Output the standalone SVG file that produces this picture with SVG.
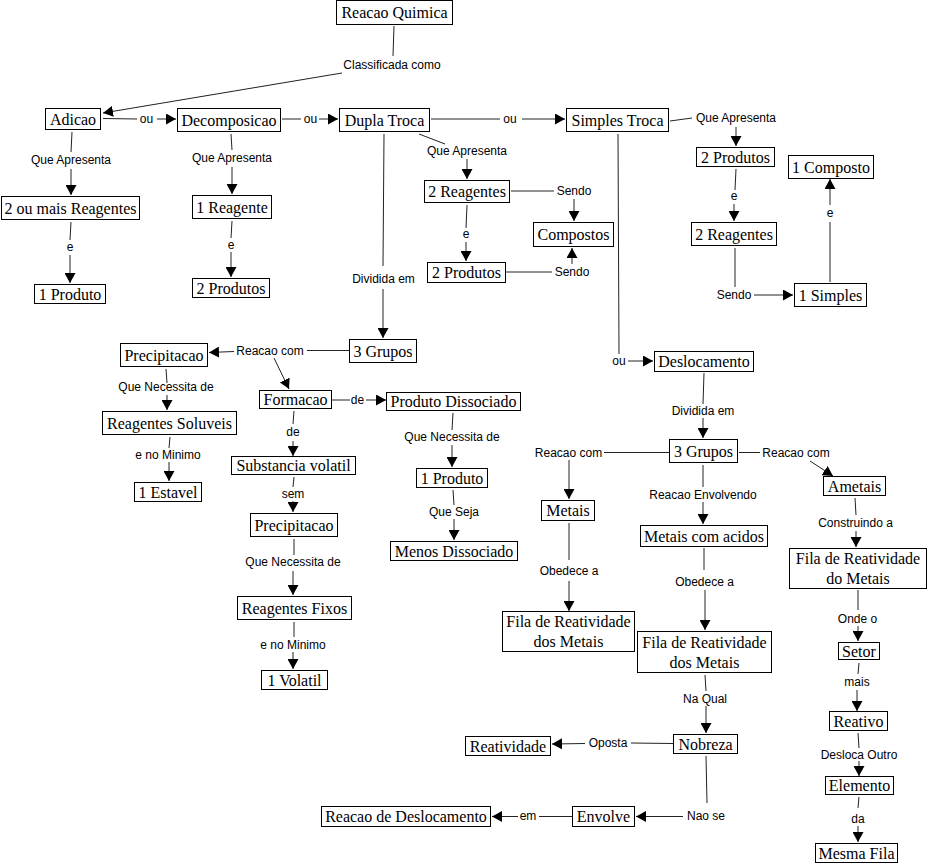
<svg xmlns="http://www.w3.org/2000/svg" width="928" height="864" viewBox="0 0 928 864">
<style>
.n rect{fill:#fff;stroke:#000;stroke-width:1}
.n text{font-family:"Liberation Serif","Times New Roman",serif;font-size:16px;fill:#000;text-anchor:middle}
.c line{stroke:#222;stroke-width:1;fill:none}
.c line.a{marker-end:url(#ah)}
.c text{font-family:"Liberation Sans",Arial,sans-serif;font-size:12px;fill:#000;text-anchor:middle}
</style>
<defs>
<marker id="ah" viewBox="0 0 10 11" refX="10" refY="5.5" markerWidth="10" markerHeight="11" markerUnits="userSpaceOnUse" orient="auto"><path d="M0,0 L10,5.5 L0,11 z" fill="#000"/></marker>
</defs>
<rect width="928" height="864" fill="#fff"/>
<g class="c" id="connectors">
<line x1="394" y1="26" x2="393" y2="56"/><text x="392" y="69">Classificada como</text><line class="a" x1="342" y1="73" x2="103" y2="113"/>
<line x1="103" y1="118.5" x2="137" y2="119"/><text x="146.5" y="123">ou</text><line class="a" x1="157" y1="119" x2="176" y2="119"/>
<line x1="282" y1="119" x2="301" y2="119"/><text x="310.5" y="123">ou</text><line class="a" x1="319" y1="119" x2="338" y2="119"/>
<line x1="431" y1="119" x2="500" y2="119"/><text x="510" y="123">ou</text><line class="a" x1="522" y1="119" x2="565" y2="119"/>
<line x1="72" y1="132" x2="71" y2="152"/><text x="71" y="163.5">Que Apresenta</text><line class="a" x1="71" y1="169" x2="71" y2="195"/>
<line x1="231" y1="134" x2="232" y2="150"/><text x="232" y="162">Que Apresenta</text><line class="a" x1="232" y1="167" x2="232" y2="194"/>
<line x1="71" y1="222" x2="70" y2="240"/><text x="70" y="251">e</text><line class="a" x1="70" y1="255" x2="70" y2="283"/>
<line x1="232" y1="221" x2="231" y2="238"/><text x="231" y="249">e</text><line class="a" x1="231" y1="252" x2="231" y2="277"/>
<line x1="419" y1="134" x2="445" y2="144"/><text x="467" y="155">Que Apresenta</text><line class="a" x1="467" y1="159" x2="467" y2="179"/>
<line x1="511" y1="191" x2="554" y2="191"/><text x="574" y="195">Sendo</text><line class="a" x1="574" y1="199" x2="574" y2="221"/>
<line x1="467" y1="205" x2="466" y2="228"/><text x="466" y="238">e</text><line class="a" x1="466" y1="242" x2="466" y2="261"/>
<line x1="506" y1="272" x2="552" y2="272"/><text x="572" y="276">Sendo</text><line class="a" x1="572" y1="264" x2="572" y2="248"/>
<line x1="670" y1="121" x2="692" y2="118"/><text x="736" y="122">Que Apresenta</text><line class="a" x1="736" y1="127" x2="736" y2="146"/>
<line x1="736" y1="169" x2="735" y2="190"/><text x="734" y="200">e</text><line class="a" x1="734" y1="204" x2="734" y2="221"/>
<line x1="735" y1="248" x2="735" y2="287"/><text x="734" y="299">Sendo</text><line class="a" x1="754" y1="295" x2="793" y2="295"/>
<line x1="830" y1="282" x2="830" y2="222"/><text x="830" y="217">e</text><line class="a" x1="830" y1="205" x2="830" y2="179"/>
<line x1="384" y1="134" x2="383" y2="266"/><text x="383.5" y="283">Dividida em</text><line class="a" x1="383" y1="289" x2="383" y2="338"/>
<line x1="618" y1="134" x2="619" y2="354"/><text x="619" y="364.5">ou</text><line class="a" x1="628" y1="361" x2="653" y2="361"/>
<line x1="349" y1="350.5" x2="307" y2="350.5"/><text x="270" y="355">Reacao com</text><line class="a" x1="234" y1="351.5" x2="209" y2="352.5"/><line class="a" x1="274" y1="358" x2="289" y2="389"/>
<line x1="332" y1="400" x2="350" y2="400"/><text x="357.5" y="404">de</text><line class="a" x1="366" y1="400" x2="386" y2="400"/>
<line x1="294" y1="411" x2="293" y2="424"/><text x="293" y="436">de</text><line class="a" x1="293" y1="441" x2="293" y2="456"/>
<line x1="294" y1="477" x2="293" y2="487"/><text x="293" y="497.5">sem</text><line class="a" x1="293" y1="501" x2="293" y2="512"/>
<line x1="294" y1="539" x2="294" y2="555"/><text x="293" y="566">Que Necessita de</text><line class="a" x1="293" y1="571" x2="293" y2="595"/>
<line x1="294" y1="622" x2="294" y2="637"/><text x="293" y="649">e no Minimo</text><line class="a" x1="293" y1="652" x2="293" y2="669"/>
<line x1="166" y1="369" x2="167" y2="383"/><text x="166" y="391">Que Necessita de</text><line class="a" x1="167" y1="395" x2="167" y2="410"/>
<line x1="170" y1="437" x2="169" y2="448"/><text x="168" y="459">e no Minimo</text><line class="a" x1="169" y1="462" x2="169" y2="481"/>
<line x1="453" y1="413" x2="452" y2="430"/><text x="452" y="441">Que Necessita de</text><line class="a" x1="452" y1="445" x2="452" y2="467"/>
<line x1="453" y1="490" x2="454" y2="505"/><text x="454" y="516">Que Seja</text><line class="a" x1="454" y1="519" x2="454" y2="540"/>
<line x1="704" y1="373" x2="703" y2="404"/><text x="703" y="414.5">Dividida em</text><line class="a" x1="703" y1="418" x2="703" y2="438"/>
<line x1="669" y1="452.5" x2="604" y2="452.5"/><text x="568.5" y="457">Reacao com</text><line class="a" x1="569" y1="460" x2="569" y2="499"/>
<line x1="739" y1="452.5" x2="760" y2="452.5"/><text x="796" y="457">Reacao com</text><line class="a" x1="810" y1="461" x2="833" y2="476"/>
<line x1="703" y1="465" x2="703" y2="487"/><text x="703" y="498.5">Reacao Envolvendo</text><line class="a" x1="703" y1="502" x2="703" y2="524"/>
<line x1="569" y1="523" x2="569" y2="560"/><text x="569" y="575">Obedece a</text><line class="a" x1="569" y1="581" x2="569" y2="611"/>
<line x1="704" y1="548" x2="704" y2="570"/><text x="704.5" y="585.5">Obedece a</text><line class="a" x1="705" y1="590" x2="705" y2="630"/>
<line x1="855" y1="498" x2="856" y2="515"/><text x="855.5" y="527">Construindo a</text><line class="a" x1="856" y1="531" x2="856" y2="547"/>
<line x1="858" y1="590" x2="858" y2="610"/><text x="857.5" y="622.5">Onde o</text><line class="a" x1="858" y1="626" x2="858" y2="641"/>
<line x1="859" y1="663" x2="858" y2="674"/><text x="857" y="686">mais</text><line class="a" x1="857" y1="690" x2="857" y2="711"/>
<line x1="858" y1="733" x2="859" y2="748"/><text x="859" y="759">Desloca Outro</text><line class="a" x1="859" y1="761" x2="859" y2="776"/>
<line x1="859" y1="797" x2="858" y2="808"/><text x="858" y="822.5">da</text><line class="a" x1="858" y1="826" x2="858" y2="842"/>
<line x1="705" y1="675" x2="706" y2="691"/><text x="705" y="703">Na Qual</text><line class="a" x1="706" y1="706" x2="706" y2="733"/>
<line x1="673" y1="743.5" x2="631" y2="743"/><text x="608" y="747">Oposta</text><line class="a" x1="585" y1="743.5" x2="552" y2="744"/>
<line x1="706" y1="756" x2="707" y2="803"/><text x="706" y="820">Nao se</text><line class="a" x1="683" y1="816.5" x2="636" y2="816.5"/>
<line x1="572" y1="816.5" x2="539" y2="816.5"/><text x="528" y="820">em</text><line class="a" x1="518" y1="816.5" x2="492" y2="816.5"/>
</g>
<g class="n" id="n_reacao_quimica"><rect x="336.5" y="0.5" width="116" height="24"/><text x="394.5" y="18">Reacao Quimica</text></g>
<g class="n" id="n_adicao"><rect x="45.5" y="108.5" width="55" height="21"/><text x="73" y="124.5">Adicao</text></g>
<g class="n" id="n_decomposicao"><rect x="177.5" y="108.5" width="103" height="23"/><text x="229" y="125.5">Decomposicao</text></g>
<g class="n" id="n_dupla_troca"><rect x="339.5" y="108.5" width="90" height="23"/><text x="384.5" y="125.5">Dupla Troca</text></g>
<g class="n" id="n_simples_troca"><rect x="566.5" y="108.5" width="102" height="23"/><text x="617.5" y="125.5">Simples Troca</text></g>
<g class="n" id="n_2oumais_reagentes"><rect x="1.5" y="196.5" width="138" height="23"/><text x="70.5" y="213.5">2 ou mais Reagentes</text></g>
<g class="n" id="n_1produto_a"><rect x="34.5" y="284.5" width="71" height="19"/><text x="70" y="299.5">1 Produto</text></g>
<g class="n" id="n_1reagente"><rect x="192.5" y="195.5" width="79" height="23"/><text x="232" y="212.5">1 Reagente</text></g>
<g class="n" id="n_2produtos_a"><rect x="192.5" y="278.5" width="77" height="19"/><text x="231" y="293.5">2 Produtos</text></g>
<g class="n" id="n_2reagentes_b"><rect x="424.5" y="180.5" width="85" height="22"/><text x="467" y="197">2 Reagentes</text></g>
<g class="n" id="n_compostos"><rect x="533.5" y="222.5" width="80" height="24"/><text x="573.5" y="240">Compostos</text></g>
<g class="n" id="n_2produtos_b"><rect x="427.5" y="262.5" width="78" height="20"/><text x="466.5" y="278">2 Produtos</text></g>
<g class="n" id="n_2produtos_c"><rect x="696.5" y="147.5" width="78" height="19"/><text x="735.5" y="162.5">2 Produtos</text></g>
<g class="n" id="n_1composto"><rect x="788.5" y="155.5" width="85" height="23"/><text x="831" y="172.5">1 Composto</text></g>
<g class="n" id="n_2reagentes_c"><rect x="691.5" y="222.5" width="85" height="23"/><text x="734" y="239.5">2 Reagentes</text></g>
<g class="n" id="n_1simples"><rect x="794.5" y="283.5" width="72" height="23"/><text x="830.5" y="300.5">1 Simples</text></g>
<g class="n" id="n_precipitacao_a"><rect x="120.5" y="343.5" width="87" height="23"/><text x="164" y="360.5">Precipitacao</text></g>
<g class="n" id="n_3grupos_a"><rect x="349.5" y="339.5" width="67" height="23"/><text x="383" y="356.5">3 Grupos</text></g>
<g class="n" id="n_formacao"><rect x="259.5" y="390.5" width="72" height="18"/><text x="295.5" y="405">Formacao</text></g>
<g class="n" id="n_produto_dissociado"><rect x="386.5" y="392.5" width="134" height="18"/><text x="453.5" y="407">Produto Dissociado</text></g>
<g class="n" id="n_reagentes_soluveis"><rect x="102.5" y="411.5" width="134" height="23"/><text x="169.5" y="428.5">Reagentes Soluveis</text></g>
<g class="n" id="n_1estavel"><rect x="134.5" y="482.5" width="67" height="19"/><text x="168" y="497.5">1 Estavel</text></g>
<g class="n" id="n_substancia_volatil"><rect x="231.5" y="456.5" width="124" height="18"/><text x="293.5" y="471">Substancia volatil</text></g>
<g class="n" id="n_precipitacao_b"><rect x="250.5" y="513.5" width="87" height="23"/><text x="294" y="530.5">Precipitacao</text></g>
<g class="n" id="n_1produto_b"><rect x="416.5" y="468.5" width="71" height="19"/><text x="452" y="483.5">1 Produto</text></g>
<g class="n" id="n_menos_dissociado"><rect x="390.5" y="541.5" width="127" height="19"/><text x="454" y="556.5">Menos Dissociado</text></g>
<g class="n" id="n_reagentes_fixos"><rect x="237.5" y="596.5" width="114" height="23"/><text x="294.5" y="613.5">Reagentes Fixos</text></g>
<g class="n" id="n_1volatil"><rect x="261.5" y="670.5" width="66" height="19"/><text x="294.5" y="685.5">1 Volatil</text></g>
<g class="n" id="n_deslocamento"><rect x="654.5" y="351.5" width="99" height="20"/><text x="704" y="367">Deslocamento</text></g>
<g class="n" id="n_3grupos_b"><rect x="669.5" y="439.5" width="68" height="23"/><text x="703.5" y="456.5">3 Grupos</text></g>
<g class="n" id="n_metais"><rect x="541.5" y="500.5" width="53" height="20"/><text x="568" y="516">Metais</text></g>
<g class="n" id="n_ametais"><rect x="823.5" y="476.5" width="62" height="19"/><text x="854.5" y="491.5">Ametais</text></g>
<g class="n" id="n_metais_acidos"><rect x="640.5" y="525.5" width="127" height="21"/><text x="704" y="541.5">Metais com acidos</text></g>
<g class="n" id="n_fila_do_metais"><rect x="789.5" y="548.5" width="137" height="40"/><text x="858" y="564">Fila de Reatividade</text><text x="858" y="583.5">do Metais</text></g>
<g class="n" id="n_fila_dos_metais_a"><rect x="502.5" y="611.5" width="132" height="40"/><text x="568.5" y="627">Fila de Reatividade</text><text x="568.5" y="646.5">dos Metais</text></g>
<g class="n" id="n_fila_dos_metais_b"><rect x="637.5" y="631.5" width="134" height="41"/><text x="704.5" y="648">Fila de Reatividade</text><text x="704.5" y="667.5">dos Metais</text></g>
<g class="n" id="n_setor"><rect x="838.5" y="642.5" width="41" height="17"/><text x="859" y="656.5">Setor</text></g>
<g class="n" id="n_reativo"><rect x="829.5" y="711.5" width="58" height="19"/><text x="858.5" y="726.5">Reativo</text></g>
<g class="n" id="n_nobreza"><rect x="673.5" y="734.5" width="64" height="19"/><text x="705.5" y="749.5">Nobreza</text></g>
<g class="n" id="n_reatividade"><rect x="465.5" y="736.5" width="85" height="19"/><text x="508" y="751.5">Reatividade</text></g>
<g class="n" id="n_elemento"><rect x="825.5" y="776.5" width="68" height="18"/><text x="859.5" y="791">Elemento</text></g>
<g class="n" id="n_envolve"><rect x="572.5" y="806.5" width="62" height="20"/><text x="603.5" y="822">Envolve</text></g>
<g class="n" id="n_reacao_deslocamento"><rect x="321.5" y="806.5" width="169" height="20"/><text x="406" y="822">Reacao de Deslocamento</text></g>
<g class="n" id="n_mesma_fila"><rect x="815.5" y="843.5" width="82" height="19"/><text x="856.5" y="858.5">Mesma Fila</text></g>
</svg>
